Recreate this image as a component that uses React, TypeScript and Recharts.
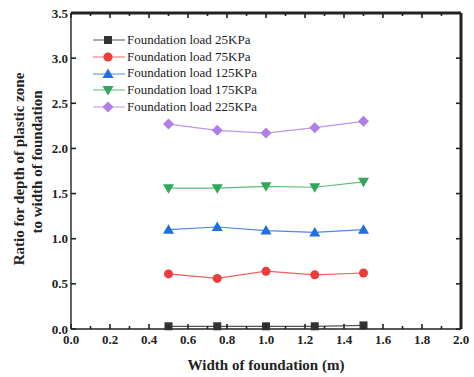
import React from "react";
import { Line, LineChart, XAxis, YAxis, ReferenceLine } from "recharts";

const widths = [0.5, 0.75, 1.0, 1.25, 1.5];
const load25 = [0.03, 0.03, 0.03, 0.03, 0.04];
const load75 = [0.61, 0.56, 0.64, 0.6, 0.62];
const load125 = [1.1, 1.13, 1.09, 1.07, 1.1];
const load175 = [1.56, 1.56, 1.58, 1.57, 1.63];
const load225 = [2.27, 2.2, 2.17, 2.23, 2.3];

const xTicks = [0, 0.1, 0.2, 0.3, 0.4, 0.5, 0.6, 0.7, 0.8, 0.9, 1.0, 1.1, 1.2, 1.3, 1.4, 1.5, 1.6, 1.7, 1.8, 1.9, 2.0];
const yTicks = [0, 0.5, 1.0, 1.5, 2.0, 2.5, 3.0, 3.5];

const data = widths.map((w, i) => ({
  w,
  l25: load25[i],
  l75: load75[i],
  l125: load125[i],
  l175: load175[i],
  l225: load225[i],
}));

type Shape = "square" | "circle" | "up" | "down" | "diamond";

const series: { key: string; name: string; color: string; line: string; shape: Shape }[] = [
  { key: "l25", name: "Foundation load 25KPa", color: "#333333", line: "#555555", shape: "square" },
  { key: "l75", name: "Foundation load 75KPa", color: "#ee3b3b", line: "#f06060", shape: "circle" },
  { key: "l125", name: "Foundation load 125KPa", color: "#1f6fe0", line: "#4b8ae6", shape: "up" },
  { key: "l175", name: "Foundation load 175KPa", color: "#2fa85a", line: "#5cbc7c", shape: "down" },
  { key: "l225", name: "Foundation load 225KPa", color: "#b07ee8", line: "#bf96ec", shape: "diamond" },
];

const W = 474;
const H = 377;
const MARGIN = { top: 13, right: 13, left: 0, bottom: 0 };
const PLOT_TOP = MARGIN.top;
const PLOT_RIGHT = W - MARGIN.right;
const AXIS = "#222";

const FONT = "Liberation Serif, Times New Roman, serif";
const labelStyle = { fontFamily: FONT, fontWeight: 700, fontSize: 13 };

function Marker({ cx, cy, shape, color }: { cx: number; cy: number; shape: Shape; color: string }) {
  if (shape === "square") return <rect x={cx - 4} y={cy - 4} width={8} height={8} fill={color} />;
  if (shape === "circle") return <circle cx={cx} cy={cy} r={4.5} fill={color} />;
  if (shape === "up")
    return <polygon points={`${cx},${cy - 5.5} ${cx + 5.5},${cy + 4} ${cx - 5.5},${cy + 4}`} fill={color} />;
  if (shape === "down")
    return <polygon points={`${cx},${cy + 5.5} ${cx + 5.5},${cy - 4} ${cx - 5.5},${cy - 4}`} fill={color} />;
  return <polygon points={`${cx},${cy - 5.5} ${cx + 5.5},${cy} ${cx},${cy + 5.5} ${cx - 5.5},${cy}`} fill={color} />;
}

const isMajor = (v: number) => Math.abs(Math.round(v * 10) % 2) === 0;

// bottom axis tick; also mirrors the tick onto the top frame edge
function BottomTick(props: any) {
  const { x, y, payload } = props;
  const v = payload.value as number;
  const len = isMajor(v) ? 5 : 3;
  return (
    <g>
      <path d={`M${x},${y}V${y - len}`} stroke={AXIS} strokeWidth={1.6} />
      <path d={`M${x},${PLOT_TOP}V${PLOT_TOP + len}`} stroke={AXIS} strokeWidth={1.6} />
      {isMajor(v) && (
        <text x={x} y={y + 15} textAnchor="middle" fontFamily={FONT} style={labelStyle} fill="#222">
          {v.toFixed(1)}
        </text>
      )}
    </g>
  );
}

// left axis tick; also mirrors the tick onto the right frame edge
function LeftTick(props: any) {
  const { x, y, payload } = props;
  return (
    <g>
      <path d={`M${x},${y}H${x + 5}`} stroke={AXIS} strokeWidth={1.6} />
      <path d={`M${PLOT_RIGHT},${y}H${PLOT_RIGHT - 5}`} stroke={AXIS} strokeWidth={1.6} />
      <text x={x - 3} y={y + 4.5} textAnchor="end" fontFamily={FONT} style={labelStyle} fill="#222">
        {(payload.value as number).toFixed(1)}
      </text>
    </g>
  );
}

function LegendBox() {
  return (
    <div style={{ position: "absolute", left: 93, top: 32, fontFamily: FONT, fontSize: 13, color: "#222", lineHeight: "16.7px" }}>
      {series.map((s) => (
        <div key={s.key} style={{ display: "flex", alignItems: "center", height: 16.7 }}>
          <svg width={34} height={14}>
            <line x1={0} x2={32} y1={7} y2={7} stroke={s.line} />
            <Marker cx={15} cy={7} shape={s.shape} color={s.color} />
          </svg>
          <span>{s.name}</span>
        </div>
      ))}
    </div>
  );
}

export default function App() {
  return (
    <div style={{ position: "absolute", left: 0, top: 0, width: W, height: H, background: "#fff", fontFamily: FONT }}>
      <LineChart width={W} height={H} data={data} margin={MARGIN}>
        <XAxis
          dataKey="w"
          type="number"
          domain={[0, 2]}
          ticks={xTicks}
          interval={0}
          tickSize={0}
          tickMargin={0}
          tickLine={false}
          axisLine={{ stroke: AXIS, strokeWidth: 1.4 }}
          tick={<BottomTick />}
          height={48}
        />
        <YAxis
          type="number"
          domain={[0, 3.5]}
          ticks={yTicks}
          interval={0}
          tickSize={0}
          tickMargin={0}
          tickLine={false}
          axisLine={{ stroke: AXIS, strokeWidth: 1.4 }}
          tick={<LeftTick />}
          width={71}
        />
        {/* frame edges: half of the stroke is clipped by the plot area */}
        <ReferenceLine y={3.5} stroke={AXIS} strokeWidth={3} ifOverflow="visible" />
        <ReferenceLine x={2} stroke={AXIS} strokeWidth={3} ifOverflow="visible" />
        {series.map((s) => (
          <Line
            key={s.key}
            dataKey={s.key}
            name={s.name}
            stroke={s.line}
            strokeWidth={1.2}
            isAnimationActive={false}
            dot={(p: any) => <Marker key={`${s.key}-${p.index}`} cx={p.cx} cy={p.cy} shape={s.shape} color={s.color} />}
            activeDot={false}
          />
        ))}
        <text x={266} y={370} textAnchor="middle" fontFamily={FONT} style={{ ...labelStyle, fontSize: 15 }} fill="#222">
          Width of foundation (m)
        </text>
        <text transform="translate(24,169) rotate(-90)" textAnchor="middle" fontFamily={FONT} style={{ ...labelStyle, fontSize: 15 }} fill="#222">
          Ratio for depth of plastic zone
        </text>
        <text transform="translate(42,162) rotate(-90)" textAnchor="middle" fontFamily={FONT} style={{ ...labelStyle, fontSize: 15 }} fill="#222">
          to width of foundation
        </text>
      </LineChart>
      <LegendBox />
    </div>
  );
}
